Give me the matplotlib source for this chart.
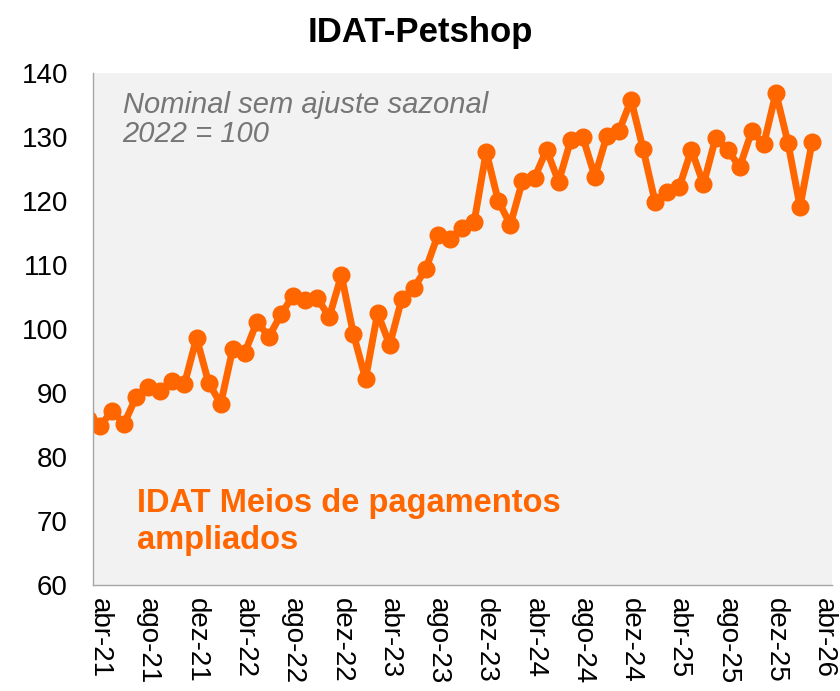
import matplotlib
matplotlib.use("Agg")
import matplotlib.pyplot as plt

plt.rcParams['font.family'] = ['Liberation Sans', 'DejaVu Sans']

# monthly index, mar-21 .. mar-26 (first point is cut by the axis edge)
months = ["mar-21", "abr-21", "mai-21", "jun-21", "jul-21", "ago-21", "set-21", "out-21", "nov-21", "dez-21",
          "jan-22", "fev-22", "mar-22", "abr-22", "mai-22", "jun-22", "jul-22", "ago-22", "set-22", "out-22",
          "nov-22", "dez-22", "jan-23", "fev-23", "mar-23", "abr-23", "mai-23", "jun-23", "jul-23", "ago-23",
          "set-23", "out-23", "nov-23", "dez-23", "jan-24", "fev-24", "mar-24", "abr-24", "mai-24", "jun-24",
          "jul-24", "ago-24", "set-24", "out-24", "nov-24", "dez-24", "jan-25", "fev-25", "mar-25", "abr-25",
          "mai-25", "jun-25", "jul-25", "ago-25", "set-25", "out-25", "nov-25", "dez-25", "jan-26", "fev-26",
          "mar-26"]
idat = [86.0, 84.8, 87.2, 85.2, 89.4, 90.9, 90.3, 91.9, 91.4, 98.6,
        91.6, 88.3, 96.9, 96.3, 101.1, 98.8, 102.3, 105.2, 104.5, 104.8,
        101.9, 108.4, 99.2, 92.2, 102.5, 97.5, 104.7, 106.4, 109.4, 114.7,
        114.1, 115.8, 116.7, 127.7, 120.0, 116.3, 123.1, 123.6, 128.0, 123.0,
        129.5, 130.0, 123.8, 130.2, 130.9, 135.8, 128.1, 119.8, 121.4, 122.2,
        128.0, 122.6, 129.8, 128.0, 125.3, 130.9, 128.9, 136.9, 129.1, 119.1,
        129.2]
tick_labels = ["abr-21", "ago-21", "dez-21", "abr-22", "ago-22", "dez-22", "abr-23", "ago-23",
               "dez-23", "abr-24", "ago-24", "dez-24", "abr-25", "ago-25", "dez-25", "abr-26"]

orange = "#FF6600"

fig = plt.figure(figsize=(8.4, 6.91), dpi=100)
ax = fig.add_axes([0.1107, 0.1534, 0.8798, 0.741])
ax.set_facecolor("#f2f2f2")

x = list(range(len(idat)))
ax.plot(x, idat, color=orange, lw=5, marker="o", ms=12, solid_joinstyle="round")

ax.set_ylim(60, 140)
ax.set_yticks(range(60, 141, 10))
ax.set_xlim(0.42, 61.65)
ax.set_xticks(range(1, 62, 4))
ax.set_xticklabels(tick_labels, rotation=270, ha="center", va="top")
ax.tick_params(axis="y", length=0, pad=18, labelsize=20)
ax.tick_params(axis="x", length=0, pad=9, labelsize=20)

for s in ["top", "right"]:
    ax.spines[s].set_visible(False)
for s in ["left", "bottom"]:
    ax.spines[s].set_color("#a6a6a6")
    ax.spines[s].set_linewidth(1)

fig.text(0.5, 0.953, "IDAT-Petshop", ha="center", va="center", fontsize=25, fontweight="bold")

ax.text(0.04, 0.965, "Nominal sem ajuste sazonal\n2022 = 100", transform=ax.transAxes,
        ha="left", va="top", fontsize=21, style="italic", color="#767676", linespacing=1.05)
ax.text(0.06, 0.19, "IDAT Meios de pagamentos\nampliados", transform=ax.transAxes,
        ha="left", va="top", fontsize=23.5, fontweight="bold", color=orange, linespacing=1.25)

fig.savefig("out.png", dpi=100)
